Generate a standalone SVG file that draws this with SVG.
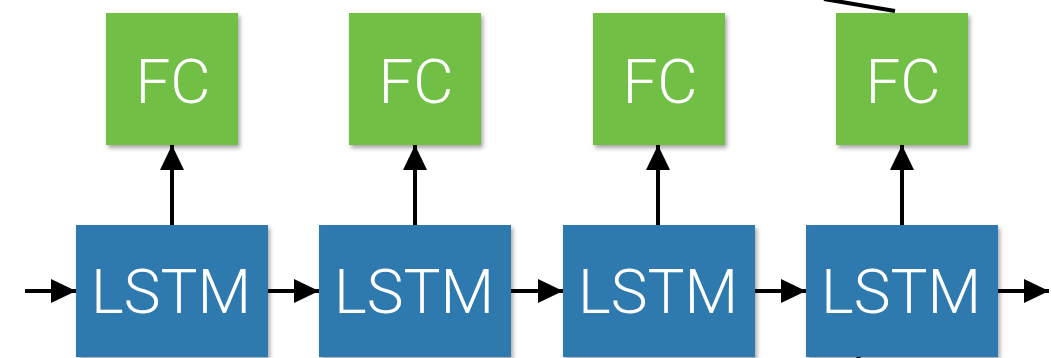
<svg xmlns="http://www.w3.org/2000/svg" width="1051" height="358" viewBox="0 0 1051 358">
<style>
.fc{fill:#71BF44}
.lstm{fill:#2F79AE}
.lbl{fill:#ffffff;font-family:Roboto,"Liberation Sans",sans-serif;font-weight:300;text-anchor:middle;font-size:62px}
.c{stroke:#000;stroke-width:4;fill:none}
</style>
<defs>
<marker id="ah" markerWidth="25" markerHeight="24" refX="25" refY="12" orient="auto" markerUnits="userSpaceOnUse">
<path d="M0,0 L25,12 L0,24 Z" fill="#000"/>
</marker>
<filter id="sh" x="-10%" y="-10%" width="125%" height="125%">
<feDropShadow dx="2" dy="3" stdDeviation="2" flood-color="#000" flood-opacity="0.35"/>
</filter>
</defs>
<g id="connectors">
<line class="c" x1="25" y1="291" x2="76" y2="291" marker-end="url(#ah)"/>
<line class="c" x1="268" y1="291" x2="319" y2="291" marker-end="url(#ah)"/>
<line class="c" x1="511" y1="291" x2="563" y2="291" marker-end="url(#ah)"/>
<line class="c" x1="755" y1="291" x2="806" y2="291" marker-end="url(#ah)"/>
<line class="c" x1="998" y1="291" x2="1049" y2="291" marker-end="url(#ah)"/>
<line class="c" x1="172" y1="225" x2="172" y2="145" marker-end="url(#ah)"/>
<line class="c" x1="415" y1="225" x2="415" y2="145" marker-end="url(#ah)"/>
<line class="c" x1="658" y1="225" x2="658" y2="145" marker-end="url(#ah)"/>
<line class="c" x1="902" y1="225" x2="902" y2="145" marker-end="url(#ah)"/>
<line class="c" x1="824" y1="-1" x2="895" y2="11"/>
<line class="c" x1="858" y1="355" x2="859" y2="360"/>
</g>
<g id="lstm1"><rect class="lstm" x="76" y="225" width="192" height="132" filter="url(#sh)"/><text class="lbl" x="171" y="313">LSTM</text></g>
<g id="lstm2"><rect class="lstm" x="319" y="225" width="192" height="132" filter="url(#sh)"/><text class="lbl" x="414" y="313">LSTM</text></g>
<g id="lstm3"><rect class="lstm" x="563" y="225" width="192" height="132" filter="url(#sh)"/><text class="lbl" x="658" y="313">LSTM</text></g>
<g id="lstm4"><rect class="lstm" x="806" y="225" width="192" height="132" filter="url(#sh)"/><text class="lbl" x="901" y="313">LSTM</text></g>
<g id="fc1"><rect class="fc" x="106" y="13" width="132" height="132" filter="url(#sh)"/><text class="lbl" x="173" y="103">FC</text></g>
<g id="fc2"><rect class="fc" x="349" y="13" width="132" height="132" filter="url(#sh)"/><text class="lbl" x="416" y="103">FC</text></g>
<g id="fc3"><rect class="fc" x="593" y="13" width="132" height="132" filter="url(#sh)"/><text class="lbl" x="660" y="103">FC</text></g>
<g id="fc4"><rect class="fc" x="836" y="13" width="132" height="132" filter="url(#sh)"/><text class="lbl" x="903" y="103">FC</text></g>
</svg>
